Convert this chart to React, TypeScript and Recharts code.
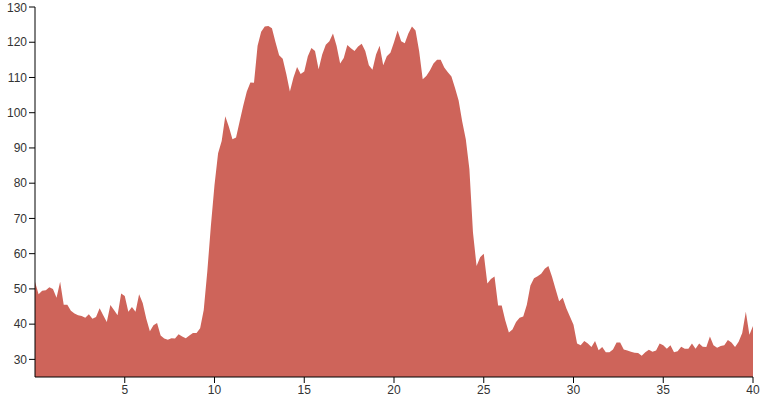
import { AreaChart, Area, XAxis, YAxis } from "recharts";

// samples taken every 0.2 along x
const STEP = 0.2;

// x 0 – 4.8
const seg0 = [52, 48.5, 49.5, 49.6, 50.5, 50, 47.5, 52, 45.5, 45.5, 43.8, 43, 42.5, 42.3, 41.8, 42.8, 41.5, 42, 44.5, 42.5, 40.6, 45.4, 44, 42.5, 48.7];
// x 5 – 9.8
const seg5 = [48, 43.5, 44.9, 43.5, 48.5, 46, 41.5, 38, 39.7, 40.3, 36.8, 35.9, 35.6, 36, 35.9, 37.1, 36.5, 36, 36.8, 37.5, 37.5, 38.8, 44, 55, 68];
// x 10 – 14.8
const seg10 = [79.5, 88.5, 92, 99, 96, 92.5, 93, 97.5, 102, 106, 108.6, 108.5, 119, 123, 124.5, 124.6, 124, 120, 116.3, 115.3, 111, 106, 110, 113, 111];
// x 15 – 19.8
const seg15 = [111.7, 116, 118.4, 117.5, 112.3, 116.5, 119.3, 120.3, 122.5, 119, 114, 115.5, 119.2, 118.3, 117.5, 118.8, 119.6, 117.5, 113.5, 112.2, 116.5, 119, 113.5, 116, 117];
// x 20 – 24.8
const seg20 = [120, 123.3, 120.3, 119.7, 122.5, 124.5, 123.3, 117.5, 109.5, 110.4, 112, 114, 115, 115, 112.8, 111.5, 110.3, 107, 103.5, 97.5, 92.5, 84, 66, 56.5, 59];
// x 25 – 29.8
const seg25 = [60, 51.5, 52.8, 53.5, 45.3, 45.3, 41, 37.6, 38.5, 40.6, 41.8, 42.2, 45.5, 51, 53, 53.6, 54.3, 55.7, 56.5, 53.5, 50, 46.5, 47.5, 44.5, 42.2];
// x 30 – 34.8
const seg30 = [39.8, 34.5, 34, 35.2, 34.5, 33.5, 35.2, 32.6, 33.5, 32, 32, 32.8, 34.8, 34.8, 32.8, 32.5, 32.2, 31.9, 31.8, 31, 32, 32.7, 32.2, 32.5, 34.5];
// x 35 – 40
const seg35 = [34, 33, 34, 32, 32.3, 33.6, 33, 33, 34.5, 33, 34.5, 33.6, 33.5, 36.5, 34, 33.3, 33.8, 34, 35.5, 34.8, 33.5, 35, 37.5, 43.5, 37, 39.5];

const values = [...seg0, ...seg5, ...seg10, ...seg15, ...seg20, ...seg25, ...seg30, ...seg35];
const data = values.map((v, i) => ({ x: Math.round(i * STEP * 10) / 10, v }));

const xTicks = [5, 10, 15, 20, 25, 30, 35, 40];
const yTicks = [30, 40, 50, 60, 70, 80, 90, 100, 110, 120, 130];

const tickStyle = { fill: "#333", fontSize: 12, fontFamily: "'Liberation Sans', Arial, sans-serif" };

export default function App() {
  return (
    <div style={{ position: "absolute", left: 0, top: 0 }}>
      <AreaChart width={760} height={400} data={data} margin={{ top: 7, right: 7, bottom: 0, left: 0 }}>
        <XAxis
          dataKey="x"
          type="number"
          domain={[0, 40]}
          ticks={xTicks}
          height={23}
          tickSize={6}
          tick={tickStyle}
          stroke="#000"
          tickLine={{ stroke: "#000" }}
        />
        <YAxis
          type="number"
          domain={[25, 130]}
          ticks={yTicks}
          allowDataOverflow
          width={35}
          tickSize={6}
          tick={tickStyle}
          stroke="#000"
          tickLine={{ stroke: "#000" }}
        />
        <Area
          type="linear"
          dataKey="v"
          stroke="none"
          fill="#ce645a"
          fillOpacity={1}
          isAnimationActive={false}
        />
      </AreaChart>
    </div>
  );
}
